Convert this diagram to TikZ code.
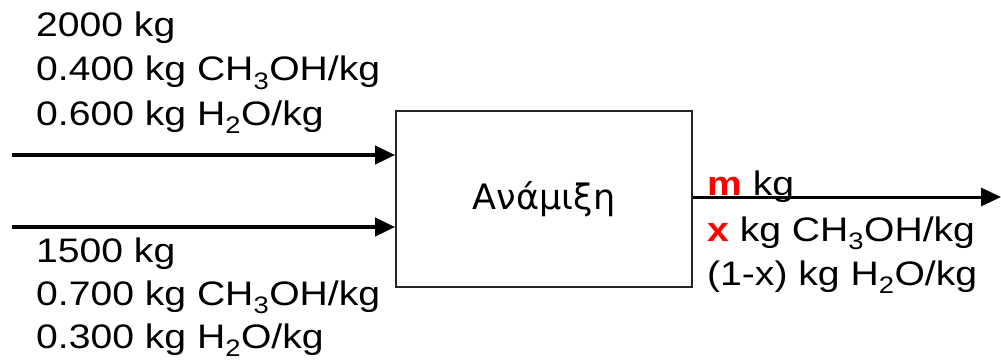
\documentclass[tikz,border=0pt]{standalone}
\usepackage{fontspec}
\setmainfont{Liberation Sans}[FakeStretch=1.15]
\newfontfamily\greekfont{DejaVu Sans}
\usetikzlibrary{arrows.meta}
\begin{document}
\begin{tikzpicture}[x=1pt,y=-1pt,
  lbl/.style={anchor=base west, inner sep=0pt, font=\fontsize{34}{40}\selectfont},
  flow/.style={line width=4pt, -{Triangle[length=20pt,width=18pt]}},
  outflow/.style={line width=3pt, -{Triangle[length=20pt,width=18pt]}},
  mixbox/.style={draw=black!85, line width=1.8pt, minimum width=296pt, minimum height=176pt, inner sep=0pt, font=\greekfont\fontsize{35}{40}\selectfont},
  var/.style={text=red, font=\bfseries}]
\useasboundingbox (0,0) rectangle (1001,361);
\node[mixbox] (mix) at (544,199) {Ανάμιξη};
\coordinate (in1) at (12,155);
\coordinate (in2) at (12,227);
\coordinate (out) at (1001,197);
\draw[flow] (in1) -- (in1 -| mix.west);
\draw[flow] (in2) -- (in2 -| mix.west);
\draw[outflow] (mix.east |- out) -- (out);
\node[lbl] (a1) at (36,37) {2000 kg};
\node[lbl] (a2) at (36,81) {0.400 kg CH\textsubscript{3}OH/kg};
\node[lbl] (a3) at (36,125) {0.600 kg H\textsubscript{2}O/kg};
\node[lbl] (b1) at (36,262) {1500 kg};
\node[lbl] (b2) at (36,305) {0.700 kg CH\textsubscript{3}OH/kg};
\node[lbl] (b3) at (36,348) {0.300 kg H\textsubscript{2}O/kg};
\node[lbl] (c1) at (707,195) {\textcolor{red}{\bfseries m} kg};
\node[lbl] (c2) at (707,241) {\textcolor{red}{\bfseries x} kg CH\textsubscript{3}OH/kg};
\node[lbl] (c3) at (707,285) {(1-x) kg H\textsubscript{2}O/kg};
\end{tikzpicture}
\end{document}
